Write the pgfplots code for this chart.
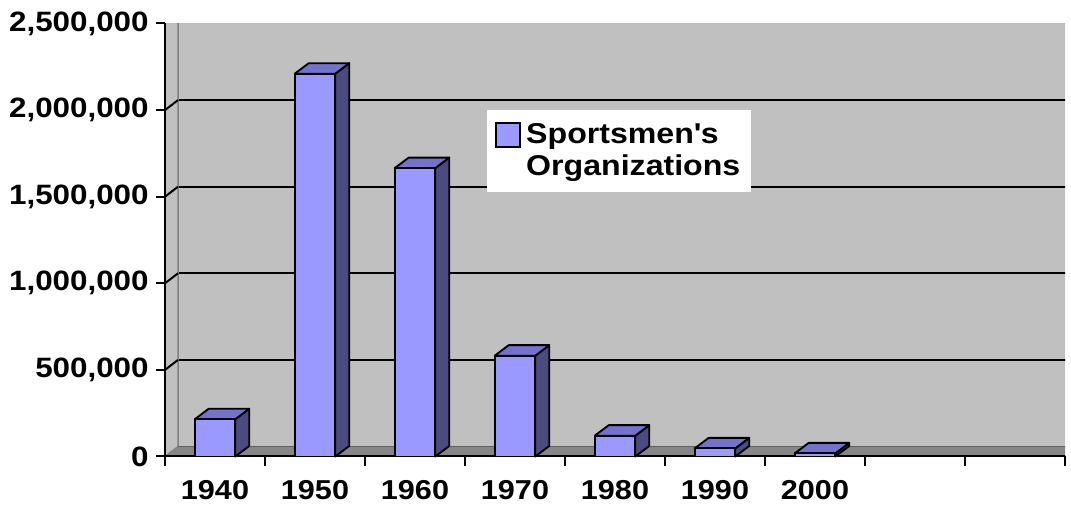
\documentclass[border=0pt]{standalone}
\usepackage{pgfplots}
\pgfplotsset{compat=1.18}
\usepackage{pgfplotstable}
\usepackage{fontspec}
\setmainfont{Liberation Sans}[FakeStretch=1.12]
\definecolor{bfront}{HTML}{9999FF}
\definecolor{btop}{HTML}{7373CC}
\definecolor{bside}{HTML}{4B4B80}
\definecolor{wall}{HTML}{C0C0C0}
\definecolor{floorc}{HTML}{868686}
\definecolor{edge}{HTML}{808080}
\pgfdeclareplotmark{void}{}
\pgfplotstableread{
x v
0 215000
1 2210000
2 1665000
3 582000
4 120000
5 47000
6 18000
}\sportsdata
\newcommand\lblfont{\fontsize{20.5}{24.6}\selectfont\bfseries}
\newcommand\ylblfont{\fontsize{21}{25}\selectfont\bfseries}
\newcommand\legfont{\fontsize{21.5}{24.3}\selectfont\bfseries}
\begin{document}
\begin{tikzpicture}
\useasboundingbox (-123.75pt,-37.125pt) rectangle (679.5pt,342.375pt);
\clip (-123.75pt,-37.125pt) rectangle (679.5pt,342.375pt);
\begin{axis}[
  scale only axis, width=675pt, height=324.75pt,
  xmin=-0.5, xmax=8.5, ymin=0, ymax=2500000,
  axis x line*=bottom, axis y line*=left,
  axis line style={line width=1.5pt, -},
  axis on top,
  tick align=outside, major tick length=6.75pt,
  tick style={line width=1.5pt, black},
  xtick={-0.5,0.5,...,8.5},
  x tick label as interval,
  xticklabels={1940,1950,1960,1970,1980,1990,2000,{},{}},
  xticklabel style={font=\lblfont, yshift=-7.5pt},
  ytick={0,500000,1000000,1500000,2000000,2500000},
  scaled y ticks=false,
  yticklabel style={font=\ylblfont, xshift=-2pt, /pgf/number format/.cd, fixed, 1000 sep={,}, assume math mode=true},
  legend cell align=left,
  legend style={at={(0.3578,0.8018)}, anchor=north west, draw=none, fill=white,
    inner xsep=6pt, inner ysep=8.5pt, font=\legfont, nodes={align=left},
    column sep=2pt},
]
% back wall
\fill[wall] ([shift={(9.75pt,7.5pt)}]axis cs:-0.5,0) rectangle ([shift={(9.75pt,7.5pt)}]axis cs:8.5,2500000);
\pgfplotsinvokeforeach{500000,1000000,1500000,2000000}{
  \draw[black, line width=1.5pt] ([shift={(9.75pt,7.5pt)}]axis cs:-0.5,#1) -- ([shift={(9.75pt,7.5pt)}]axis cs:8.5,#1);
}
\draw[edge, line width=1.5pt] ([shift={(9.75pt,7.5pt)}]axis cs:-0.5,0) -- ([shift={(9.75pt,7.5pt)}]axis cs:-0.5,2500000) -- ([shift={(9.75pt,7.5pt)}]axis cs:8.5,2500000);
% side wall
\fill[wall, draw=edge, line width=1pt] (axis cs:-0.5,0) -- ([shift={(9.75pt,7.5pt)}]axis cs:-0.5,0) -- ([shift={(9.75pt,7.5pt)}]axis cs:-0.5,2500000) -- (axis cs:-0.5,2500000) -- cycle;
\pgfplotsinvokeforeach{500000,1000000,1500000,2000000}{
  \draw[black, line width=1.5pt] (axis cs:-0.5,#1) -- ([shift={(9.75pt,7.5pt)}]axis cs:-0.5,#1);
}
% floor
\fill[floorc] (axis cs:-0.5,0) -- (axis cs:8.5,0) -- ([shift={(9.75pt,7.5pt)}]axis cs:8.5,0) -- ([shift={(9.75pt,7.5pt)}]axis cs:-0.5,0) -- cycle;
\draw[edge!75!black, line width=1.2pt] ([shift={(9.75pt,7.5pt)}]axis cs:-0.5,0) -- ([shift={(9.75pt,7.5pt)}]axis cs:8.5,0);
\draw[black, line width=1.5pt] (axis cs:8.5,0) -- ([shift={(9.75pt,7.5pt)}]axis cs:8.5,0);
% bars
\addplot[scatter, only marks, mark=void, point meta=explicit,
  scatter/@pre marker code/.code={%
    \begingroup\pgfkeys{/pgf/fpu=true,/pgf/fpu/output format=fixed}%
    \pgfmathparse{\pgfplotspointmeta*0.0001299}\xdef\barh{\pgfmathresult}\endgroup
    \fill[bside, draw=black, line width=1.4pt, line join=round] (15.2pt,0pt) -- ++(10.5pt,7.9pt) -- ++(0pt,-\barh pt) -- (15.2pt,-\barh pt) -- cycle;
    \fill[btop, draw=black, line width=1.4pt, line join=round] (-15.2pt,0pt) -- (15.2pt,0pt) -- ++(10.5pt,7.9pt) -- (-4.7pt,7.9pt) -- cycle;
    \fill[bfront, draw=black, line width=1.4pt, line join=round] (-15.2pt,-\barh pt) rectangle (15.2pt,0pt);
  },
  scatter/@post marker code/.code={},
  legend image code/.code={\draw[fill=bfront, line width=1.2pt] (0pt,2.8pt) rectangle (18pt,20.8pt);},
] table[x=x, y=v, meta=v] {\sportsdata};
\addlegendentry{Sportsmen\textquotesingle s\\Organizations}
\end{axis}
\end{tikzpicture}
\end{document}
